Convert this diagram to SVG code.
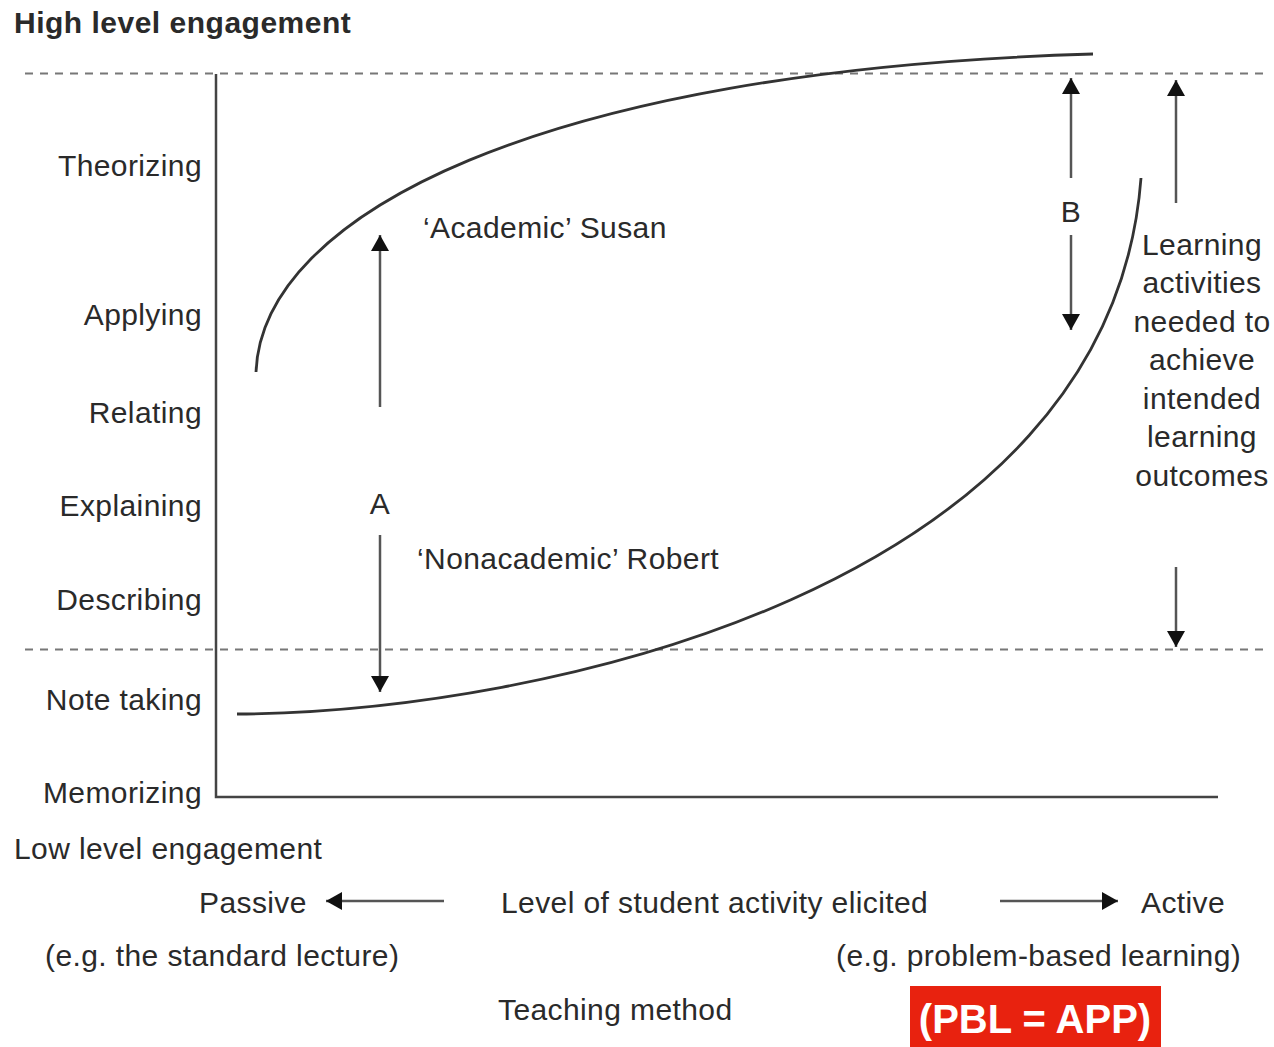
<svg xmlns="http://www.w3.org/2000/svg" width="1274" height="1047" viewBox="0 0 1274 1047">
<defs>
<style>
text{font-family:"Liberation Sans",Arial,sans-serif;font-size:30px;fill:#2a2a2a;letter-spacing:0.4px}
.r{text-anchor:end}
.m{text-anchor:middle}
.dash{stroke:#777;stroke-width:2;stroke-dasharray:8 7;fill:none}
.axis{stroke:#444;stroke-width:2.5;fill:none}
.curve{stroke:#333;stroke-width:2.8;fill:none}
.arr{stroke:#555;stroke-width:2.5;fill:none;marker-end:url(#ah)}
</style>
<marker id="ah" viewBox="0 0 16 18" refX="16" refY="9" markerWidth="16" markerHeight="18" markerUnits="userSpaceOnUse" orient="auto">
<path d="M0,0 L16,9 L0,18 z" fill="#111"/>
</marker>
</defs>
<rect width="1274" height="1047" fill="#fff"/>

<g id="axes">
<line class="dash" x1="25" y1="73.5" x2="1265" y2="73.5"/>
<line class="dash" x1="25" y1="649.5" x2="1265" y2="649.5"/>
<polyline class="axis" points="216,74 216,797 1218,797"/>
</g>

<g id="labels-y">
<text x="14" y="33" style="font-weight:bold;letter-spacing:0.5px">High level engagement</text>
<text class="r" x="202" y="176">Theorizing</text>
<text class="r" x="202" y="325">Applying</text>
<text class="r" x="202" y="423">Relating</text>
<text class="r" x="202" y="516">Explaining</text>
<text class="r" x="202" y="610">Describing</text>
<text class="r" x="202" y="710">Note taking</text>
<text class="r" x="202" y="803">Memorizing</text>
<text x="14" y="859">Low level engagement</text>
</g>

<g id="susan">
<path class="curve" d="M256,372 C262,215 540,70 1093,54"/>
<text x="423" y="238">‘Academic’ Susan</text>
</g>
<g id="robert">
<path class="curve" d="M237,714 C540,712 1110,590 1141,178"/>
<text x="417" y="569">‘Nonacademic’ Robert</text>
</g>

<g id="connectors">
<line class="arr" x1="380" y1="407" x2="380" y2="235"/>
<line class="arr" x1="380" y1="535" x2="380" y2="692"/>
<line class="arr" x1="1071" y1="178" x2="1071" y2="78"/>
<line class="arr" x1="1071" y1="235" x2="1071" y2="330"/>
<line class="arr" x1="1176" y1="203" x2="1176" y2="80"/>
<line class="arr" x1="1176" y1="567" x2="1176" y2="647"/>
<line class="arr" x1="444" y1="901" x2="326" y2="901"/>
<line class="arr" x1="1000" y1="901" x2="1118" y2="901"/>
</g>

<g id="gap-labels">
<text class="m" x="380" y="514">A</text>
<text class="m" x="1071" y="222">B</text>
</g>

<g id="outcomes">
<text class="m" x="1202" y="255">Learning</text>
<text class="m" x="1202" y="293">activities</text>
<text class="m" x="1202" y="332">needed to</text>
<text class="m" x="1202" y="370">achieve</text>
<text class="m" x="1202" y="409">intended</text>
<text class="m" x="1202" y="447">learning</text>
<text class="m" x="1202" y="486">outcomes</text>
</g>

<g id="labels-x">
<text x="199" y="913">Passive</text>
<text x="501" y="913">Level of student activity elicited</text>
<text x="1141" y="913">Active</text>
<text x="45" y="966">(e.g. the standard lecture)</text>
<text x="836" y="966">(e.g. problem-based learning)</text>
<text x="498" y="1020">Teaching method</text>
</g>

<g id="pbl">
<rect x="910" y="986" width="251" height="61" fill="#e8220f"/>
<text class="m" x="1035" y="1033" style="fill:#fff;font-size:40px;font-weight:bold;letter-spacing:0">(PBL = APP)</text>
</g>
</svg>
